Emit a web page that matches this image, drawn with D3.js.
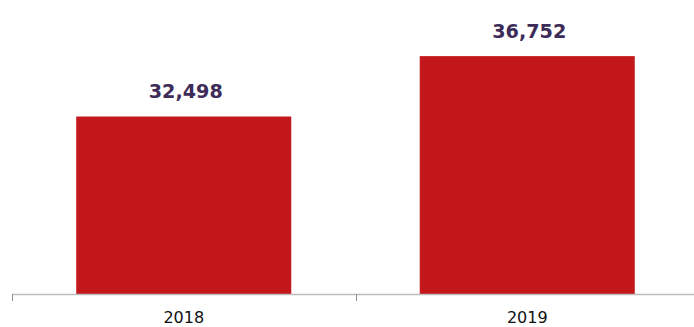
<!DOCTYPE html>
<html>
<head>
<meta charset="utf-8">
<script src="https://cdn.jsdelivr.net/npm/d3@7"></script>
<style>
  body { margin: 0; background: #fff; }
  svg { display: block; }
</style>
</head>
<body>
<svg id="chart" width="694" height="327"></svg>
<script>
// data
var years = ["2018", "2019"];
var values = [32498, 36752];
var yDomain = [20000, 40000];

var svg = d3.select("#chart");
var width = 694, height = 327;
var margin = {top: 10, left: 12, bottom: 33};
var base = height - margin.bottom;   // 294

var x = d3.scaleBand()
    .domain(years)
    .range([margin.left, 699])
    .padding(0);

var y = d3.scaleLinear()
    .domain(yDomain)
    .range([base, margin.top]);

var barW = x.bandwidth() * 0.626;
var fmt = d3.format(",");

var data = years.map(function(d, i) { return {year: d, value: values[i]}; });

// bars
svg.append("g")
  .selectAll("rect")
  .data(data)
  .enter().append("rect")
    .attr("x", function(d) { return x(d.year) + (x.bandwidth() - barW) / 2; })
    .attr("y", function(d) { return y(d.value); })
    .attr("width", barW)
    .attr("height", function(d) { return base - y(d.value); })
    .attr("fill", "#c3181b");

// value labels
svg.append("g")
  .selectAll("text")
  .data(data)
  .enter().append("text")
    .attr("x", function(d) { return x(d.year) + x.bandwidth() / 2 + 2; })
    .attr("y", function(d) { return y(d.value) - 18.5; })
    .attr("text-anchor", "middle")
    .attr("font-family", "'DejaVu Sans', Verdana, sans-serif")
    .attr("font-weight", "bold")
    .attr("font-size", 19.2)
    .attr("fill", "#3d2b58")
    .text(function(d) { return fmt(d.value); });

// x axis: baseline + ticks at category boundaries
var axis = svg.append("g");
axis.append("line")
    .attr("x1", x.range()[0])
    .attr("x2", x.range()[1])
    .attr("y1", base + 0.5)
    .attr("y2", base + 0.5)
    .attr("stroke", "#bcbcbc")
    .attr("stroke-width", 1.3);

axis.selectAll(".tick")
  .data(years)
  .enter().append("line")
    .attr("class", "tick")
    .attr("x1", function(d) { return Math.round(x(d)) + 0.5; })
    .attr("x2", function(d) { return Math.round(x(d)) + 0.5; })
    .attr("y1", base)
    .attr("y2", base + 7)
    .attr("stroke", "#8c8c8c")
    .attr("stroke-width", 1);

axis.selectAll(".lbl")
  .data(years)
  .enter().append("text")
    .attr("class", "lbl")
    .attr("x", function(d) { return x(d) + x.bandwidth() / 2; })
    .attr("y", 323)
    .attr("text-anchor", "middle")
    .attr("font-family", "'DejaVu Sans', Verdana, sans-serif")
    .attr("font-size", 16)
    .attr("fill", "#111")
    .text(function(d) { return d; });
</script>
</body>
</html>
